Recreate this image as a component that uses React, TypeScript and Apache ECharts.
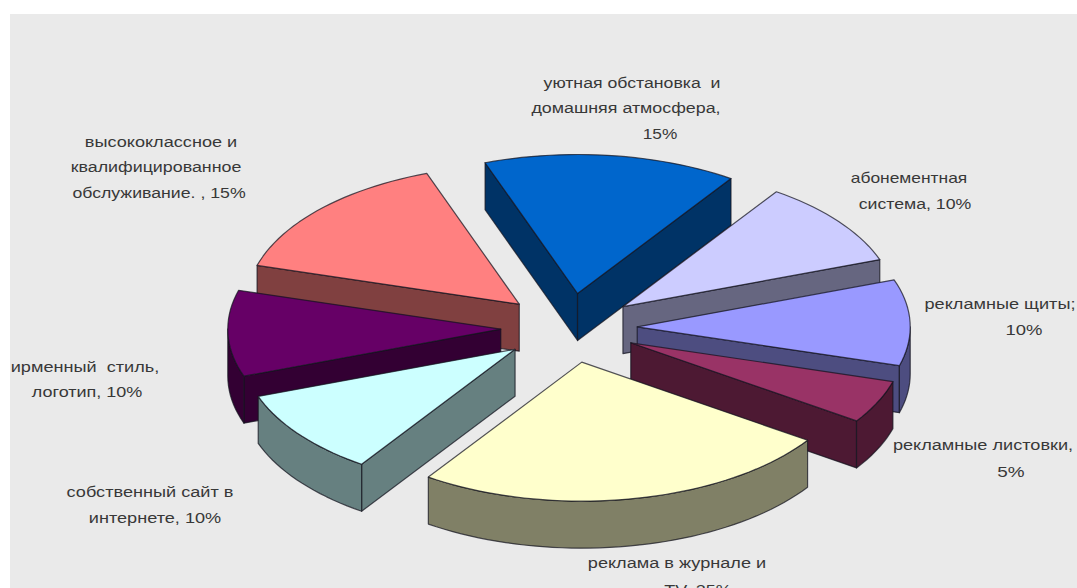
import React, { useEffect, useRef } from "react";
import * as echarts from "echarts";

const categories = [
  "уютная обстановка и домашняя атмосфера",
  "абонементная система",
  "рекламные щиты",
  "рекламные листовки",
  "реклама в журнале и TV",
  "собственный сайт в интернете",
  "фирменный стиль, логотип",
  "высококлассное и квалифицированное обслуживание",
];
const shares = [15, 10, 10, 5, 25, 10, 10, 15];
const topColors = ["#0066CC", "#CCCCFF", "#9999FF", "#993366", "#FFFFCC", "#CCFFFF", "#660066", "#FF8080"];
const sideColors = ["#003366", "#666680", "#4D4D80", "#4D1933", "#808066", "#668080", "#330033", "#804040"];

const labelLines = [
  ["уютная обстановка  и", "домашняя атмосфера,", "15%"],
  ["абонементная", "система, 10%"],
  ["рекламные щиты;", "10%"],
  ["рекламные листовки,", "5%"],
  ["реклама в журнале и", "TV, 25%"],
  ["собственный сайт в", "интернете, 10%"],
  ["ирменный  стиль,", "логотип, 10%"],
  ["высококлассное и", "квалифицированное", "обслуживание. , 15%"],
];
// Centre x, centre y and horizontal stretch of each label line
const labelPlacement = [
  [[632, 83, 1.18], [626, 108, 1.19], [660, 133, 1.15]],
  [[909, 177, 1.16], [915, 204, 1.18]],
  [[1000, 304, 1.21], [1024, 330, 1.23]],
  [[983, 445, 1.21], [1011, 472, 1.26]],
  [[677, 563, 1.21], [698, 590, 1.2]],
  [[150, 492, 1.21], [155, 518, 1.21]],
  [[85, 367, 1.21], [87, 392, 1.2]],
  [[161, 142, 1.21], [156, 167, 1.19], [159, 193, 1.18]],
];

// Projection of the tilted pie
const CX = 569;
const CY = 328;
const RX = 273;
const RY = 139;
const DEPTH = 47;
const EXPLODE = 0.25;
const START_DEG = 250.2;
const OUTLINE = "rgba(20,20,30,0.72)";

const total = shares.reduce((a, b) => a + b, 0);
const deg = (share: number) => (share / total) * 360;

const sliceStarts = shares.map((_, i) =>
  START_DEG + shares.slice(0, i).reduce((a, b) => a + deg(b), 0)
);

// Painted back to front, so nearer slices cover the walls behind them
const paintOrder = shares
  .map((_, i) => i)
  .sort(
    (a, b) =>
      Math.sin(((sliceStarts[a] + deg(shares[a]) / 2) * Math.PI) / 180) -
      Math.sin(((sliceStarts[b] + deg(shares[b]) / 2) * Math.PI) / 180)
  );

function renderSlice(_params: any, api: any) {
  const index = api.value(0);
  const share = api.value(1);
  const t0 = api.value(2);
  const t1 = t0 + deg(share);
  const rad = (d: number) => (d * Math.PI) / 180;
  const mid = rad((t0 + t1) / 2);
  const ox = CX + EXPLODE * RX * Math.cos(mid);
  const oy = CY + EXPLODE * RY * Math.sin(mid);
  const rim = (d: number, dz = 0) => [ox + RX * Math.cos(rad(d)), oy + RY * Math.sin(rad(d)) + dz];
  const arc = (from: number, to: number, dz = 0) => {
    const steps = Math.max(2, Math.ceil(Math.abs(to - from) / 2));
    const out: number[][] = [];
    for (let k = 0; k <= steps; k++) out.push(rim(from + ((to - from) * k) / steps, dz));
    return out;
  };
  const side = sideColors[index];
  const poly = (points: number[][], fill: string) => ({
    type: "polygon",
    shape: { points },
    style: { fill, stroke: OUTLINE, lineWidth: 1.2, lineJoin: "round" },
    silent: true,
  });
  const children: any[] = [];
  const wall = (d: number) =>
    poly([[ox, oy], rim(d), rim(d, DEPTH), [ox, oy + DEPTH]], side);
  if (Math.cos(rad(t0)) < 0) children.push(wall(t0));
  if (Math.cos(rad(t1)) > 0) children.push(wall(t1));
  // The outer rim shows only where the edge faces the viewer
  for (let turn = -360; turn <= 360; turn += 360) {
    const from = Math.max(t0, turn);
    const to = Math.min(t1, turn + 180);
    if (to > from) {
      children.push(poly([...arc(from, to), ...arc(to, from, DEPTH)], side));
    }
  }
  children.push(poly([[ox, oy], ...arc(t0, t1)], topColors[index]));
  return { type: "group", children };
}

export default function App() {
  const ref = useRef<HTMLDivElement>(null);
  useEffect(() => {
    const chart = echarts.init(ref.current!, null, { renderer: "svg" });
    const labels: any[] = [];
    labelLines.forEach((lines, i) =>
      lines.forEach((text, j) => {
        const [x, y, stretch] = labelPlacement[i][j];
        labels.push({
          type: "text",
          x,
          y,
          scaleX: stretch,
          style: {
            text,
            fill: "#383838",
            font: '15px "Liberation Sans", Arial, sans-serif',
            align: "center",
            verticalAlign: "middle",
          },
          z: 10,
        });
      })
    );
    chart.setOption({
      animation: false,
      backgroundColor: "#ffffff",
      graphic: [
        {
          type: "rect",
          shape: { x: 10, y: 14, width: 1067, height: 574 },
          style: { fill: "#EAEAEA" },
          z: -1,
          silent: true,
        },
        ...labels,
      ],
      series: [
        {
          type: "custom",
          name: "Реклама",
          coordinateSystem: "none",
          renderItem: renderSlice,
          data: paintOrder.map((i) => ({
            name: categories[i],
            value: [i, shares[i], sliceStarts[i]],
          })),
          z: 2,
        },
      ],
    });
    return () => chart.dispose();
  }, []);
  return (
    <div
      ref={ref}
      style={{ position: "fixed", left: 0, top: 0, width: 1077, height: 588 }}
    />
  );
}
